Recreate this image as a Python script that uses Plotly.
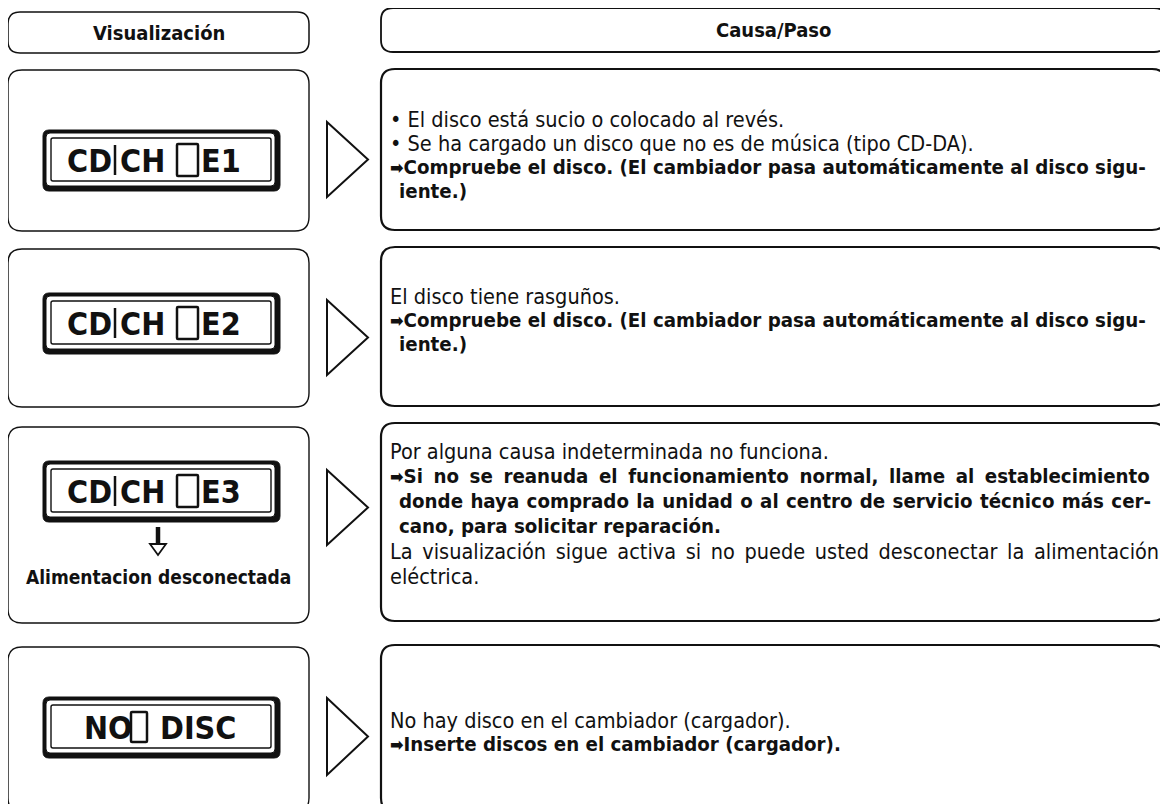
import plotly.graph_objects as go

# ---------------- data (texts) ----------------
header_left = "Visualización"
header_right = "Causa/Paso"

display_left = ["CD", "CD", "CD", "NO"]
display_mid = ["CH", "CH", "CH", ""]
display_right = ["E1", "E2", "E3", "DISC"]

power_note = "Alimentacion desconectada"

# (text, bold, indented)
cause_lines = [
    [
        ("• El disco está sucio o colocado al revés.", False, False),
        ("• Se ha cargado un disco que no es de música (tipo CD-DA).", False, False),
        ("➡Compruebe el disco. (El cambiador pasa automáticamente al disco sigu-", True, False),
        ("iente.)", True, True),
    ],
    [
        ("El disco tiene rasguños.", False, False),
        ("➡Compruebe el disco. (El cambiador pasa automáticamente al disco sigu-", True, False),
        ("iente.)", True, True),
    ],
    [
        ("Por alguna causa indeterminada no funciona.", False, False),
        ("➡Si no se reanuda el funcionamiento normal, llame al establecimiento", True, False),
        ("donde haya comprado la unidad o al centro de servicio técnico más cer-", True, True),
        ("cano, para solicitar reparación.", True, True),
        ("La visualización sigue activa si no puede usted desconectar la alimentación", False, False),
        ("eléctrica.", False, False),
    ],
    [
        ("No hay disco en el cambiador (cargador).", False, False),
        ("➡Inserte discos en el cambiador (cargador).", True, False),
    ],
]

# ---------------- layout geometry / styling ----------------
W, H = 1168, 804
OFF = 8  # page body margin: data coords == window pixels
FONT = "DejaVu Sans Condensed, Liberation Sans Narrow, Roboto, sans-serif"
LCD_FONT = "DejaVu Sans Condensed, Liberation Sans Narrow, sans-serif"

left_x0, left_x1 = 8, 309
right_x0, right_x1 = 381, 1166
left_rows = [(70, 231), (249, 407), (427, 623), (647, 812)]
right_rows = [(69, 230), (247, 406), (423, 621), (645, 812)]
tri_rows = [(122, 197), (300, 375), (470, 545), (698, 775)]
lcd_centers = [160, 323, 491, 727]
text_starts = [119, 296, 451, 720]
LINE = [24, 24, 25, 24]
# extra word spacing (px) to emulate justified lines
justify = {(2, 1): 4.2, (2, 2): 1.0, (2, 4): 3.5}


def rrect(x0, y0, x1, y1, r):
    return (f"M{x0+r},{y0} L{x1-r},{y0} Q{x1},{y0} {x1},{y0+r} "
            f"L{x1},{y1-r} Q{x1},{y1} {x1-r},{y1} L{x0+r},{y1} "
            f"Q{x0},{y1} {x0},{y1-r} L{x0},{y0+r} Q{x0},{y0} {x0+r},{y0} Z")


shapes = []
annotations = []


def add_path(path, width=1.5, fill=None, color="#111"):
    d = dict(type="path", path=path, xref="x", yref="y",
             line=dict(color=color, width=width), layer="above")
    if fill:
        d["fillcolor"] = fill
    shapes.append(d)


def add_text(x, y, text, size, bold=False, anchor="left", font=FONT, color="#111"):
    annotations.append(dict(
        x=x, y=y, xref="x", yref="y", text=text, showarrow=False,
        xanchor=anchor, yanchor="middle",
        font=dict(family=font, size=size, color=color,
                  weight="bold" if bold else "normal"),
    ))


# header boxes
add_path(rrect(left_x0, 12, left_x1, 53, 12), 1.5)
add_path(rrect(right_x0, 8, right_x1, 52, 12), 1.8)
add_path("M1031,2 L1030,8", 1.2)
add_text((left_x0 + left_x1) / 2, 33, header_left, 20, True, "center")
add_text((right_x0 + right_x1) / 2, 30, header_right, 20, True, "center")

for i in range(4):
    ly0, ly1 = left_rows[i]
    ry0, ry1 = right_rows[i]
    add_path(rrect(left_x0, ly0, left_x1, ly1, 14), 1.4)
    add_path(rrect(right_x0, ry0, right_x1, ry1, 14), 2.2)
    # triangle
    t0, t1 = tri_rows[i]
    add_path(f"M327,{t0} L368,{(t0 + t1) / 2} L327,{t1} Z", 2.0, "white")
    # LCD display
    c = lcd_centers[i]
    add_path(rrect(43, c - 30, 280, c + 31, 6), 1, "#111")
    add_path(rrect(46, c - 27, 275, c + 26, 4), 1, "white")
    add_path(rrect(51, c - 22, 271, c + 21, 2), 1.4)
    if display_mid[i]:
        add_text(89, c + 1, display_left[i], 32, True, "center", LCD_FONT)
        add_path(f"M115,{c-15} L115,{c+15}", 2.5)
        add_text(142, c + 1, display_mid[i], 32, True, "center", LCD_FONT)
        add_path(rrect(177, c - 16, 198, c + 16, 1), 2.5, "white")
        add_text(221, c + 1, display_right[i], 32, True, "center", LCD_FONT)
    else:
        add_text(108, c + 1, display_left[i], 32, True, "center", LCD_FONT)
        add_path(rrect(131, c - 15, 147, c + 15, 1), 2.5, "white")
        add_text(198, c + 1, display_right[i], 32, True, "center", LCD_FONT)
    # cause text
    for j, (txt, bold, indent) in enumerate(cause_lines[i]):
        x = 397 if indent else 388
        t = txt.replace("➡", "<span style='font-size:18px'>➡</span>")
        if (i, j) in justify:
            t = f"<span style='word-spacing:{justify[(i, j)]}px'>{t}</span>"
        add_text(x, text_starts[i] + j * LINE[i], t, 20.3 if bold else 21.5, bold)

# power-off arrow + note in row 3
add_path("M158,527 L158,545", 4.5)
add_path("M150,544 L166,544 L158,555 Z", 1.8, "white")
add_text(158, 577, power_note, 19, True, "center")

fig = go.Figure()
fig.update_layout(
    width=W, height=H,
    margin=dict(l=0, r=0, t=0, b=0),
    paper_bgcolor="white", plot_bgcolor="white",
    xaxis=dict(range=[OFF, W + OFF], visible=False, fixedrange=True),
    yaxis=dict(range=[H + OFF, OFF], visible=False, fixedrange=True),
    shapes=shapes, annotations=annotations, showlegend=False,
)
fig.write_html("out.html")
